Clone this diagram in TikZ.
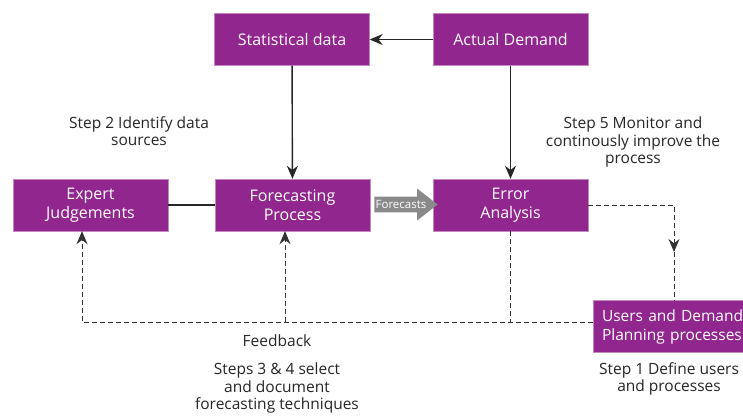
\documentclass[tikz,border=0pt]{standalone}
\usepackage{fontspec}
\setmainfont{Open Sans}
\usetikzlibrary{shapes, arrows.meta, positioning, calc}
\definecolor{boxpurple}{RGB}{146, 38, 143}
\definecolor{fcgray}{RGB}{138, 138, 138}

\begin{document}
\begin{tikzpicture}[x=1pt, y=-1pt,
  box/.style={draw=boxpurple!55, fill=boxpurple, text=white, minimum width=155pt, minimum height=52pt, align=center, inner sep=2pt, font=\fontsize{16}{19}\selectfont},
  note/.style={align=center, text=black!85, font=\fontsize{15.5}{17.5}\selectfont},
  link/.style={line width=1.4pt, black!85},
  fb/.style={line width=0.9pt, dash pattern=on 5pt off 3pt, black!80},
  tip/.style={-{Stealth[length=13pt, width=11pt]}}]
  \path[use as bounding box, clip] (0,0) rectangle (743,415);

  % Boxes
  \node[box] (stat) at (292, 39.5) {Statistical data};
  \node[box] (actual) at (510.5, 39.5) {Actual Demand};
  \node[box] (expert) at (90.5, 205) {Expert\\Judgements};
  \node[box] (forecast) at (292.5, 205) {Forecasting\\Process};
  \node[box] (error) at (510.5, 205) {Error\\Analysis};
  \node[box, text width=150pt, inner xsep=9pt, align=left, font=\fontsize{15.5}{19}\selectfont] (users) at (677, 326.5) {Users and Demand\\Planning processes};

  % Flow
  \draw[link, tip] (actual) -- (stat);
  \draw[link, tip] (stat) -- (forecast);
  \draw[link, tip] (actual) -- (error);
  \draw[link] (expert) -- (forecast);
  \node[single arrow, fill=fcgray, text=white, minimum height=62pt, minimum width=32pt, single arrow tip angle=76, inner xsep=1pt, inner ysep=2.5pt, font=\fontsize{11.5}{13}\selectfont] (fc) at (401, 204.5) {Forecasts};

  % Feedback
  \coordinate (turn) at (674, 252);
  \coordinate (join) at (593, 322);
  \draw[fb, tip] (error.east) -| (turn);
  \draw[fb] (turn) -- (turn |- users.north);
  \draw[fb, tip] (join) -| ([xshift=-8.5pt]expert.south);
  \draw[fb] (error.south) -- (error.south |- join);
  \draw[fb, tip] ([xshift=-7.5pt]forecast.south |- join) -- ([xshift=-7.5pt]forecast.south);

  % Labels
  \node[note] (step2) at (139, 131) {Step 2 Identify data\\sources};
  \node[note] (step5) at (633, 142) {Step 5 Monitor and\\continously improve the\\process};
  \node[note] (feedback) at (277, 341) {Feedback};
  \node[note] (step34) at (277, 388) {Steps 3 \& 4 select\\and document\\forecasting techniques};
  \node[note] (step1) at (669, 379) {Step 1 Define users\\and processes};
\end{tikzpicture}
\end{document}
